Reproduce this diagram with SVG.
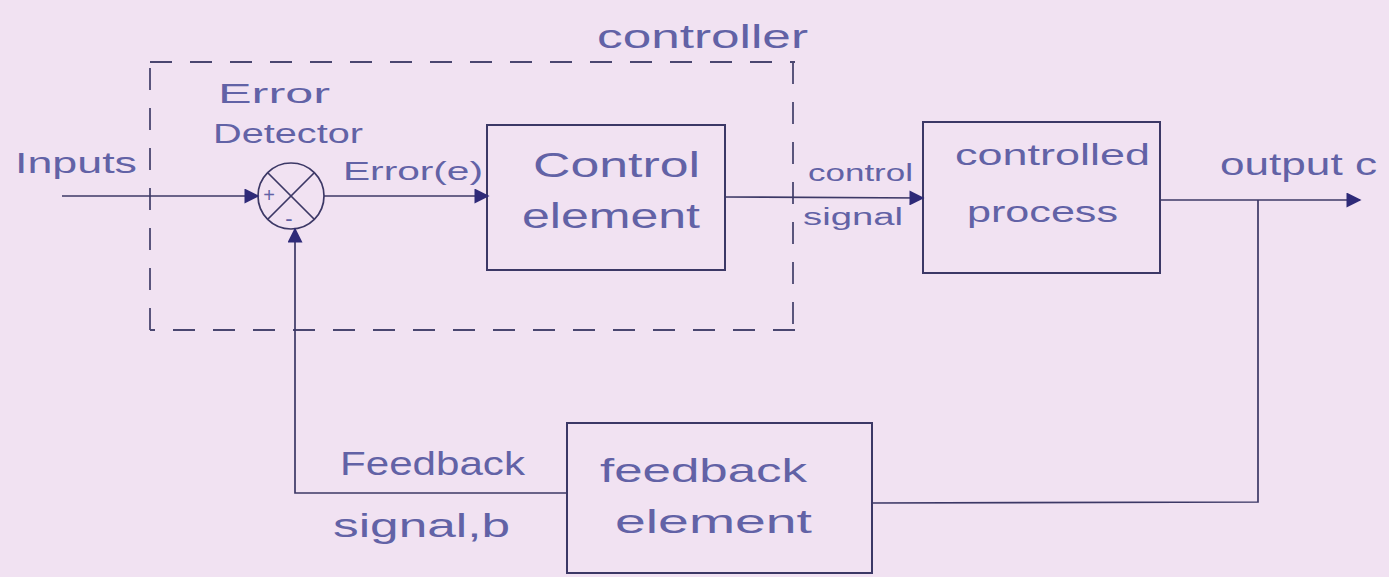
<svg xmlns="http://www.w3.org/2000/svg" width="1389" height="577" viewBox="0 0 1389 577">
<style>
.ln{stroke:#3c3866;stroke-width:1.7;fill:none}
.dash{stroke:#4a4670;stroke-width:1.8;fill:none;stroke-dasharray:22 18}
.box{stroke:#3c3866;stroke-width:2;fill:none}
.t{font-family:"Liberation Sans",sans-serif;fill:#6262a6}
</style>
<defs>
<marker id="ahb" viewBox="0 0 10 10" refX="9" refY="5" markerWidth="16" markerHeight="15" markerUnits="userSpaceOnUse" orient="auto">
<path d="M0,0 L10,5 L0,10 z" fill="#2e2a78"/>
</marker>
</defs>
<rect width="1389" height="577" fill="#f1e2f2"/>

<g id="controller">
<path class="dash" d="M150,62 L795,62 M793,62 L793,330 M795,330 L150,330 M150,330 L150,62"/>
<text class="t" font-size="33" x="597" y="48" textLength="211" lengthAdjust="spacingAndGlyphs">controller</text>
</g>

<g id="error-detector">
<circle cx="291" cy="196" r="33" class="ln" stroke-width="1.4"/>
<line x1="268" y1="173" x2="314" y2="219" class="ln" stroke-width="1.4"/>
<line x1="314" y1="173" x2="268" y2="219" class="ln" stroke-width="1.4"/>
<text class="t" font-size="20" x="269" y="202" text-anchor="middle">+</text>
<text class="t" font-size="22" x="289" y="226" text-anchor="middle">-</text>
<text class="t" font-size="27" x="218" y="103" textLength="112" lengthAdjust="spacingAndGlyphs">Error</text>
<text class="t" font-size="27" x="213" y="143" textLength="150" lengthAdjust="spacingAndGlyphs">Detector</text>
</g>

<g id="control-element">
<rect class="box" x="487" y="125" width="238" height="145"/>
<text class="t" font-size="35" x="533" y="177" textLength="167" lengthAdjust="spacingAndGlyphs">Control</text>
<text class="t" font-size="35" x="522" y="228" textLength="178" lengthAdjust="spacingAndGlyphs">element</text>
</g>

<g id="controlled-process">
<rect class="box" x="923" y="122" width="237" height="151"/>
<text class="t" font-size="30" x="955" y="165" textLength="195" lengthAdjust="spacingAndGlyphs">controlled</text>
<text class="t" font-size="30" x="967" y="222" textLength="151" lengthAdjust="spacingAndGlyphs">process</text>
</g>

<g id="feedback-element">
<rect class="box" x="567" y="423" width="305" height="150"/>
<text class="t" font-size="33" x="600" y="482" textLength="207" lengthAdjust="spacingAndGlyphs">feedback</text>
<text class="t" font-size="33" x="615" y="533" textLength="197" lengthAdjust="spacingAndGlyphs">element</text>
</g>

<g id="labels">
<text class="t" font-size="29" x="15" y="173" textLength="122" lengthAdjust="spacingAndGlyphs">Inputs</text>
<text class="t" font-size="26" x="343" y="180" textLength="140" lengthAdjust="spacingAndGlyphs">Error(e)</text>
<text class="t" font-size="23" x="808" y="181" textLength="105" lengthAdjust="spacingAndGlyphs">control</text>
<text class="t" font-size="23" x="803" y="225" textLength="100" lengthAdjust="spacingAndGlyphs">signal</text>
<text class="t" font-size="31" x="1220" y="175" textLength="157" lengthAdjust="spacingAndGlyphs">output c</text>
<text class="t" font-size="33" x="340" y="475" textLength="185" lengthAdjust="spacingAndGlyphs">Feedback</text>
<text class="t" font-size="33" x="333" y="537" textLength="177" lengthAdjust="spacingAndGlyphs">signal,b</text>
</g>

<g id="connectors">
<line class="ln" x1="62" y1="196" x2="258" y2="196" marker-end="url(#ahb)"/>
<line class="ln" x1="324" y1="196" x2="488" y2="196" marker-end="url(#ahb)"/>
<line class="ln" x1="725" y1="197" x2="923" y2="198" marker-end="url(#ahb)"/>
<line class="ln" x1="1160" y1="200" x2="1360" y2="200" marker-end="url(#ahb)"/>
<polyline class="ln" points="1258,200 1258,502 872,503"/>
<polyline class="ln" points="567,493 295,493 295,229" marker-end="url(#ahb)"/>
</g>
</svg>
